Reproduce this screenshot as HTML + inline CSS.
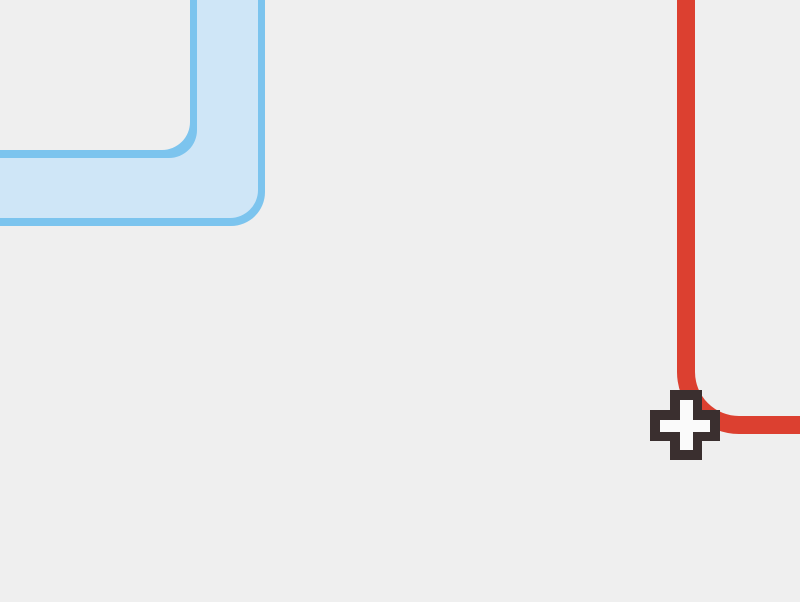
<!DOCTYPE html>
<html><head><meta charset="utf-8"><style>
html,body{margin:0;padding:0;background:#efefef;}
svg{display:block;}
</style></head><body>
<svg width="800" height="602" viewBox="0 0 800 602">
<rect width="800" height="602" fill="#efefef"/>
<g>
<path d="M-10,150 H162 A28 28 0 0 0 190,122 V-10 H265 V192 A34 34 0 0 1 231,226 H-10 Z" fill="#7cc4ee"/>
<path d="M-10,158 H169 A28 28 0 0 0 197,130 V-10 H258 V190 A28 28 0 0 1 230,218 H-10 Z" fill="#cfe6f7"/>
</g>
<path d="M686,-10 V372 A53 53 0 0 0 739,425 H810" fill="none" stroke="#dc4030" stroke-width="18"/>
<g>
<rect x="650" y="410" width="70" height="31" fill="#3a2f2f"/>
<rect x="670" y="390" width="32" height="70" fill="#3a2f2f"/>
<rect x="660" y="420" width="50" height="12" fill="#fafafa"/>
<rect x="680" y="400" width="13" height="50" fill="#fafafa"/>
</g>
</svg>
</body></html>
